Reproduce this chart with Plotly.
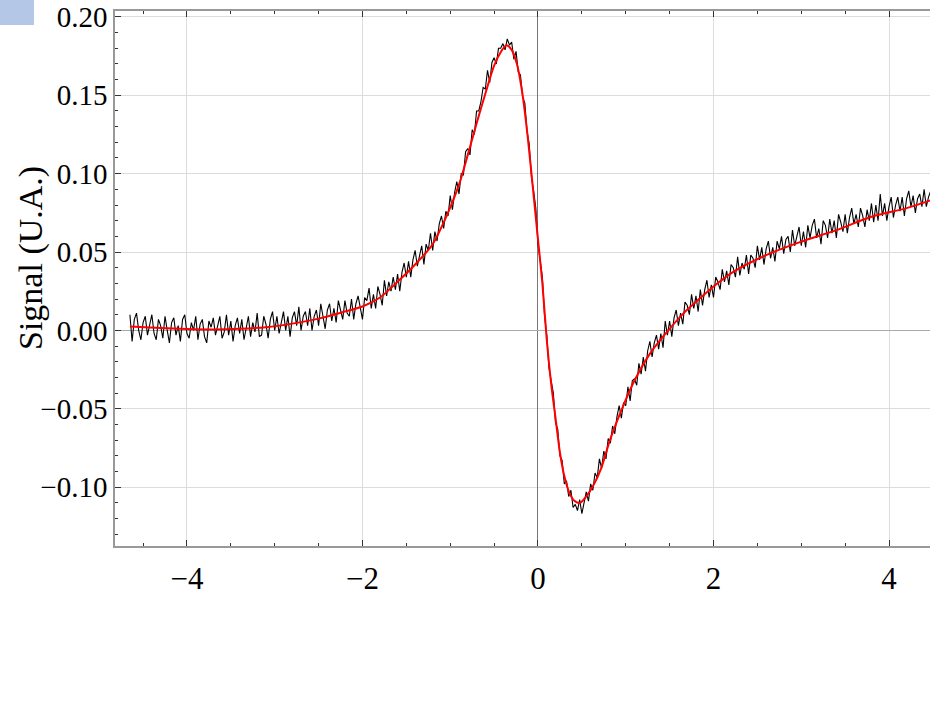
import numpy as np
import plotly.graph_objects as go

# ---- measured signal (black), sampled every 0.025 from -4.65 to 4.50 ----
signal_x = np.round(np.linspace(-4.65, 4.50, 367), 3)
signal_y = [
    0.010, -0.007, 0.007, 0.011, 0.000, -0.006, 0.005, 0.009, -0.003, 0.003,
    0.010, -0.002, -0.006, 0.007, 0.003, -0.005, 0.009, 0.000, -0.008, 0.005,
    0.008, -0.003, 0.003, -0.007, 0.007, 0.010, -0.002, -0.005, 0.005, 0.000,
    0.009, -0.006, 0.004, 0.007, -0.004, -0.008, 0.006, 0.002, 0.008, -0.003,
    0.004, 0.009, -0.005, -0.001, 0.010, -0.003, 0.006, -0.007, 0.003, 0.008,
    -0.002, 0.007, -0.006, 0.002, 0.009, -0.004, 0.005, -0.001, 0.011, -0.004,
    -0.003, 0.009, 0.004, -0.005, 0.007, 0.012, 0.000, 0.009, -0.002, 0.005,
    0.012, 0.000, 0.009, -0.004, 0.008, 0.012, 0.003, 0.015, 0.000, 0.009,
    0.012, 0.003, 0.014, 0.000, 0.009, 0.013, 0.003, 0.017, 0.008, 0.001,
    0.013, 0.017, 0.006, 0.014, 0.005, 0.019, 0.013, 0.007, 0.019, 0.011,
    0.009, 0.020, 0.007, 0.017, 0.022, 0.013, 0.007, 0.021, 0.019, 0.027,
    0.014, 0.023, 0.014, 0.028, 0.023, 0.016, 0.032, 0.022, 0.031, 0.025,
    0.034, 0.026, 0.036, 0.025, 0.037, 0.043, 0.034, 0.044, 0.034, 0.045,
    0.051, 0.041, 0.047, 0.054, 0.042, 0.055, 0.051, 0.062, 0.051, 0.063,
    0.057, 0.068, 0.073, 0.065, 0.076, 0.073, 0.086, 0.077, 0.088, 0.095,
    0.087, 0.100, 0.099, 0.114, 0.116, 0.112, 0.128, 0.125, 0.140, 0.140,
    0.146, 0.155, 0.154, 0.166, 0.158, 0.171, 0.174, 0.170, 0.180, 0.180,
    0.183, 0.179, 0.186, 0.182, 0.184, 0.173, 0.178, 0.165, 0.163, 0.149,
    0.145, 0.127, 0.119, 0.098, 0.089, 0.078, 0.055, 0.046, 0.034, 0.009,
    -0.003, -0.024, -0.032, -0.040, -0.059, -0.063, -0.080, -0.083, -0.098, -0.096,
    -0.106, -0.102, -0.113, -0.111, -0.115, -0.108, -0.117, -0.111, -0.103, -0.109,
    -0.098, -0.102, -0.091, -0.094, -0.082, -0.088, -0.077, -0.082, -0.069, -0.072,
    -0.061, -0.066, -0.055, -0.048, -0.056, -0.046, -0.048, -0.036, -0.045, -0.032,
    -0.031, -0.035, -0.021, -0.028, -0.017, -0.026, -0.013, -0.007, -0.017, -0.008,
    -0.003, -0.012, -0.002, -0.011, 0.006, -0.003, 0.006, -0.004, 0.008, 0.013,
    0.003, 0.011, 0.004, 0.018, 0.016, 0.010, 0.023, 0.014, 0.022, 0.012,
    0.026, 0.016, 0.026, 0.032, 0.021, 0.029, 0.021, 0.034, 0.031, 0.026,
    0.039, 0.031, 0.038, 0.029, 0.042, 0.040, 0.034, 0.047, 0.035, 0.043,
    0.039, 0.048, 0.036, 0.048, 0.046, 0.040, 0.054, 0.045, 0.053, 0.042,
    0.052, 0.057, 0.046, 0.053, 0.044, 0.057, 0.052, 0.060, 0.049, 0.058,
    0.060, 0.050, 0.064, 0.054, 0.060, 0.066, 0.054, 0.063, 0.053, 0.067,
    0.059, 0.067, 0.071, 0.059, 0.065, 0.055, 0.070, 0.067, 0.059, 0.071,
    0.062, 0.070, 0.059, 0.074, 0.069, 0.063, 0.074, 0.062, 0.072, 0.078,
    0.068, 0.074, 0.066, 0.078, 0.073, 0.066, 0.077, 0.070, 0.081, 0.069,
    0.080, 0.070, 0.087, 0.073, 0.081, 0.070, 0.079, 0.085, 0.072, 0.080,
    0.085, 0.076, 0.085, 0.073, 0.084, 0.089, 0.079, 0.086, 0.075, 0.084,
    0.087, 0.079, 0.090, 0.079, 0.085, 0.089, 0.081,
]

# ---- fitted curve (red) ----
fit_x = [-4.65, -4.3, -4.0, -3.7, -3.4, -3.1, -2.8, -2.5, -2.2, -2.0, -1.8, -1.6,
         -1.4, -1.2, -1.05, -0.9, -0.8, -0.7, -0.6, -0.5, -0.42, -0.36, -0.3,
         -0.24, -0.18, -0.12, -0.06, 0.0, 0.05, 0.1, 0.15, 0.2, 0.25, 0.3, 0.36,
         0.42, 0.48, 0.55, 0.63, 0.72, 0.82, 0.95, 1.1, 1.28, 1.47, 1.66, 1.85,
         2.0, 2.23, 2.6, 3.0, 3.4, 3.8, 4.2, 4.5]
fit_y = [0.0025, 0.0015, 0.0009, 0.0006, 0.001, 0.002, 0.0043, 0.0075, 0.012,
         0.0152, 0.021, 0.031, 0.042, 0.055, 0.072, 0.093, 0.112, 0.132, 0.151,
         0.169, 0.178, 0.182, 0.179, 0.170, 0.152, 0.125, 0.092, 0.058, 0.030,
         -0.006, -0.034, -0.056, -0.078, -0.093, -0.104, -0.109, -0.110, -0.106,
         -0.099, -0.088, -0.070, -0.051, -0.032, -0.0145, -0.001, 0.011, 0.0206,
         0.028, 0.0375, 0.048, 0.0566, 0.064, 0.0725, 0.078, 0.0835]

x_ticks = [-4, -2, 0, 2, 4]
y_ticks = [-0.10, -0.05, 0.00, 0.05, 0.10, 0.15, 0.20]
y_title = "Signal (U.A.)"

FONT = "Liberation Serif"

fig = go.Figure()
fig.add_trace(go.Scatter(x=signal_x, y=signal_y, mode="lines",
                         line=dict(color="black", width=1.1), showlegend=False))
fig.add_trace(go.Scatter(x=fit_x, y=fit_y, mode="lines",
                         line=dict(color="#ff0000", width=2, shape="spline", smoothing=0.8),
                         showlegend=False))

W, H = 930, 709
ml, mr, mt, mb = 115, 0, 11, 163
pw, ph = W - ml - mr, H - mt - mb

fig.add_shape(type="rect", xref="paper", yref="paper",
              x0=(0 - ml) / pw, x1=(34 - ml) / pw,
              y0=(H - mb - 25) / ph, y1=(H - mb - 0) / ph,
              fillcolor="#b4c7e7", line=dict(width=0), layer="above")

fig.add_annotation(text=y_title, xref="paper", yref="paper",
                   x=(31 - ml) / pw, y=(H - mb - 258) / ph,
                   xanchor="center", yanchor="middle", textangle=-90,
                   showarrow=False, font=dict(size=34, family=FONT, color="black"))

fig.update_layout(
    width=W, height=H,
    margin=dict(l=ml, r=mr, t=mt, b=mb, pad=0),
    paper_bgcolor="white", plot_bgcolor="white",
    font=dict(family=FONT, color="black"),
    xaxis=dict(range=[-4.82, 4.467], tickvals=x_ticks, ticks="inside", ticklen=6,
               tickwidth=1, tickcolor="#333",
               minor=dict(dtick=0.5, tick0=0, ticks="inside", ticklen=3, tickcolor="#333", showgrid=False),
               showline=True, linecolor="#999", linewidth=1.5, mirror="ticks",
               showgrid=True, gridcolor="#dcdcdc", gridwidth=1,
               zeroline=True, zerolinecolor="#777", zerolinewidth=1,
               tickfont=dict(size=31, family=FONT), ticklabelstandoff=4),
    yaxis=dict(range=[-0.1376, 0.2038], tickvals=y_ticks, tickformat=".2f",
               ticks="inside", ticklen=6, tickwidth=1, tickcolor="#333",
               minor=dict(dtick=0.01, tick0=0, ticks="inside", ticklen=3, tickcolor="#333", showgrid=False),
               showline=True, linecolor="#999", linewidth=1.5, mirror=False,
               showgrid=True, gridcolor="#dcdcdc", gridwidth=1,
               zeroline=True, zerolinecolor="#aaa", zerolinewidth=1,
               tickfont=dict(size=29, family=FONT), ticklabelstandoff=0),
)

fig.write_html("out.html")
